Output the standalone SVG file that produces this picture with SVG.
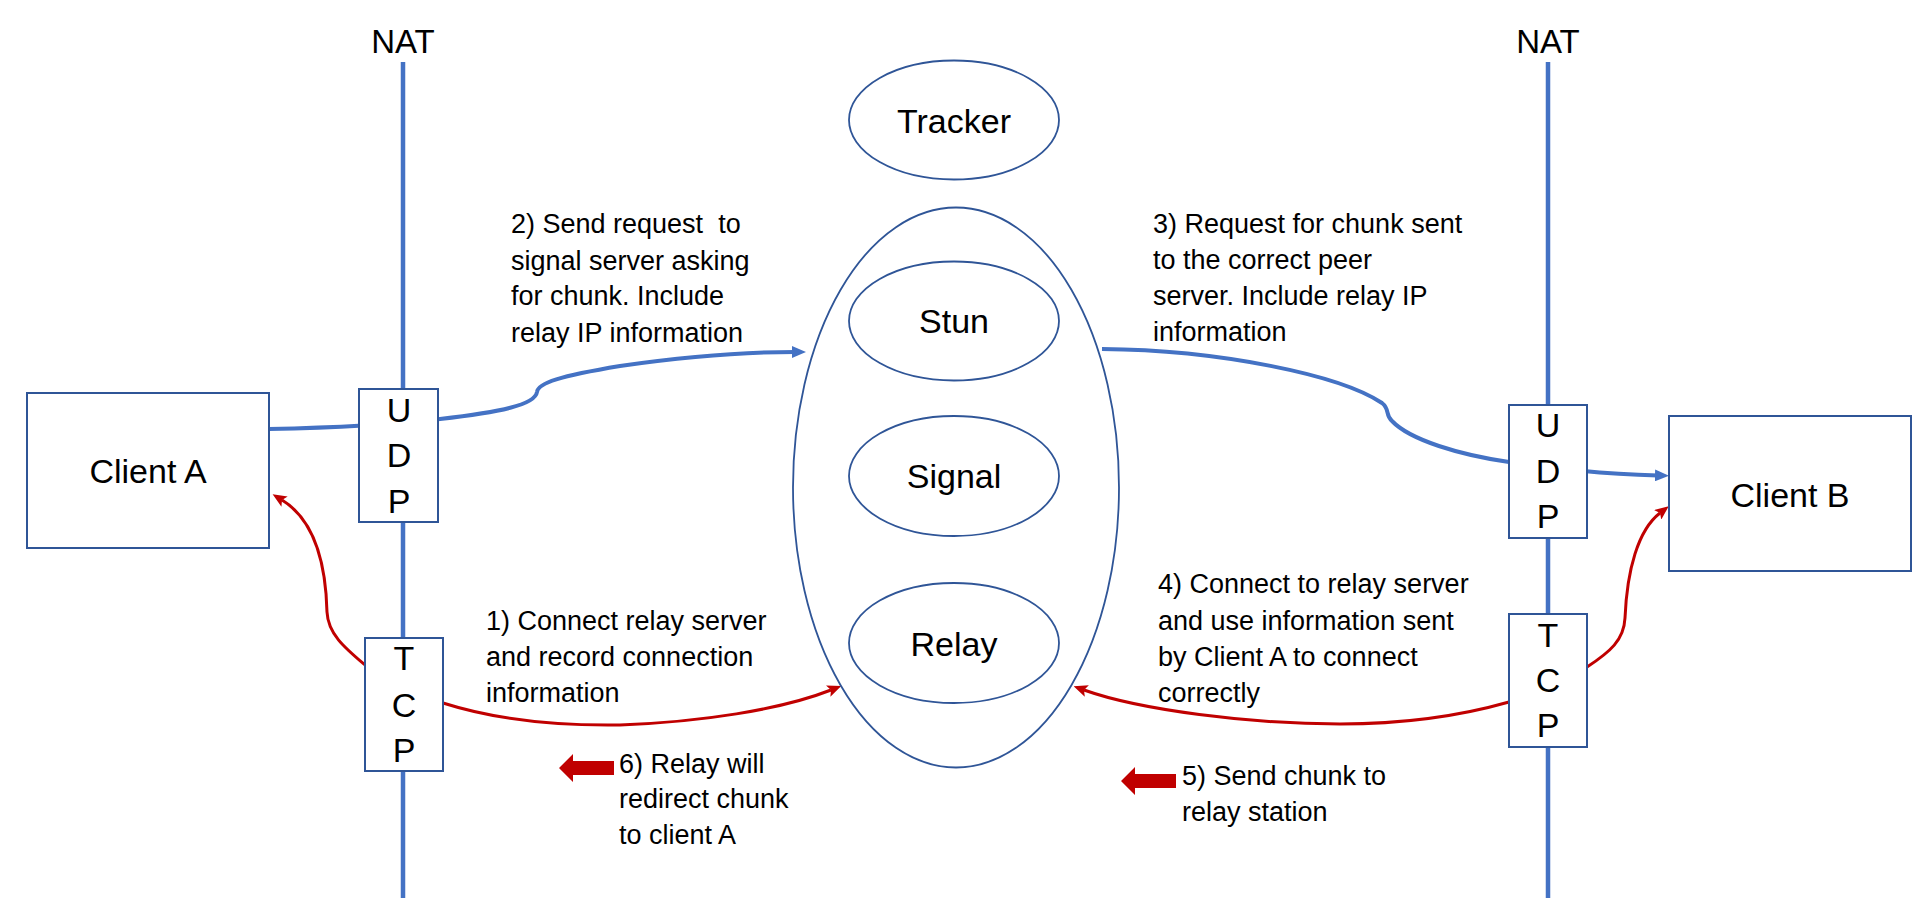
<svg xmlns="http://www.w3.org/2000/svg" width="1924" height="914" viewBox="0 0 1924 914">
<style>
text{font-family:"Liberation Sans",Arial,sans-serif;fill:#000}
.nat{stroke:#4472C4;stroke-width:4.5}
.box{fill:#fff;stroke:#2F5597;stroke-width:2}
.ell{fill:none;stroke:#2F5597;stroke-width:1.8}
.blue{fill:none;stroke:#4472C4;stroke-width:4}
.red{fill:none;stroke:#C00000;stroke-width:3}
.lbl{font-size:27px;white-space:pre}
.big{font-size:34px;text-anchor:middle}
.let{font-size:34px;text-anchor:middle}
.blk{fill:#C00000}
</style>
<defs>
<marker id="ab" viewBox="0 0 14 12" refX="3" refY="6" markerWidth="14" markerHeight="12" markerUnits="userSpaceOnUse" orient="auto"><path d="M0,0 L14,6 L0,12 z" fill="#4472C4"/></marker>
<marker id="ar" viewBox="0 0 14 12" refX="3" refY="6" markerWidth="14" markerHeight="12" markerUnits="userSpaceOnUse" orient="auto"><path d="M0,0 L14,6 L0,12 L3,6 z" fill="#C00000"/></marker>
</defs>
<g id="nat-left">
<line class="nat" x1="403" y1="62" x2="403" y2="898"/>
<text x="403" y="53" font-size="33" text-anchor="middle">NAT</text>
</g>
<g id="nat-right">
<line class="nat" x1="1548" y1="62" x2="1548" y2="898"/>
<text x="1548" y="53" font-size="33" text-anchor="middle">NAT</text>
</g>
<g id="connectors">
<path class="blue" d="M269,429 C320,428 380,426 440,419 C500,412 535,405 537,392 C538,383 560,376 620,366 C690,356 740,352 795,352" marker-end="url(#ab)"/>
<path class="blue" d="M1102,349 C1220,350 1340,375 1382,403 C1390,409 1385,415 1392,421 C1410,440 1460,455 1509,462 C1560,469 1600,474 1658,475.5" marker-end="url(#ab)"/>
<path class="red" d="M443,703 C490,718 550,726 620,725 C700,722 780,710 831,690" marker-end="url(#ar)"/>
<path class="red" d="M365,665 C345,648 328,634 327,612 C326,570 318,522 282,500" marker-end="url(#ar)"/>
<path class="red" d="M1509,702 C1460,716 1400,724 1340,724 C1250,724 1140,710 1084,690" marker-end="url(#ar)"/>
<path class="red" d="M1587,667 C1610,652 1624,640 1625,618 C1627,570 1638,530 1660,513" marker-end="url(#ar)"/>
</g>
<g id="client-a">
<rect class="box" x="27" y="393" width="242" height="155"/>
<text class="big" x="148" y="483">Client A</text>
</g>
<g id="udp-left">
<rect class="box" x="359" y="389" width="79" height="133"/>
<text class="let" x="399" y="422">U</text>
<text class="let" x="399" y="467">D</text>
<text class="let" x="399" y="513">P</text>
</g>
<g id="tcp-left">
<rect class="box" x="365" y="638" width="78" height="133"/>
<text class="let" x="404" y="670">T</text>
<text class="let" x="404" y="717">C</text>
<text class="let" x="404" y="762">P</text>
</g>
<g id="tracker">
<ellipse class="ell" cx="954" cy="120" rx="105" ry="59.5"/>
<text class="big" x="954" y="133" font-size="33">Tracker</text>
</g>
<g id="server-group">
<ellipse class="ell" cx="956" cy="487.5" rx="163" ry="280"/>
</g>
<g id="stun">
<ellipse class="ell" cx="954" cy="321" rx="105" ry="59.5"/>
<text class="big" x="954" y="333">Stun</text>
</g>
<g id="signal">
<ellipse class="ell" cx="954" cy="476" rx="105" ry="60"/>
<text class="big" x="954" y="488">Signal</text>
</g>
<g id="relay">
<ellipse class="ell" cx="954" cy="643" rx="105" ry="60"/>
<text class="big" x="954" y="656">Relay</text>
</g>
<g id="udp-right">
<rect class="box" x="1509" y="405" width="78" height="133"/>
<text class="let" x="1548" y="437">U</text>
<text class="let" x="1548" y="483">D</text>
<text class="let" x="1548" y="528">P</text>
</g>
<g id="tcp-right">
<rect class="box" x="1509" y="614" width="78" height="133"/>
<text class="let" x="1548" y="647">T</text>
<text class="let" x="1548" y="692">C</text>
<text class="let" x="1548" y="737">P</text>
</g>
<g id="client-b">
<rect class="box" x="1669" y="416" width="242" height="155"/>
<text class="big" x="1790" y="507">Client B</text>
</g>
<g id="label-2">
<text class="lbl" x="511" y="233" xml:space="preserve">2) Send request  to</text>
<text class="lbl" x="511" y="270">signal server asking</text>
<text class="lbl" x="511" y="305">for chunk. Include</text>
<text class="lbl" x="511" y="342">relay IP information</text>
</g>
<g id="label-3">
<text class="lbl" x="1153" y="233">3) Request for chunk sent</text>
<text class="lbl" x="1153" y="269">to the correct peer</text>
<text class="lbl" x="1153" y="305">server. Include relay IP</text>
<text class="lbl" x="1153" y="341">information</text>
</g>
<g id="label-1">
<text class="lbl" x="486" y="630">1) Connect relay server</text>
<text class="lbl" x="486" y="666">and record connection</text>
<text class="lbl" x="486" y="702">information</text>
</g>
<g id="label-4">
<text class="lbl" x="1158" y="593">4) Connect to relay server</text>
<text class="lbl" x="1158" y="630">and use information sent</text>
<text class="lbl" x="1158" y="666">by Client A to connect</text>
<text class="lbl" x="1158" y="702">correctly</text>
</g>
<g id="label-6">
<polygon class="blk" points="559,768 573,754 573,761 614,761 614,775 573,775 573,782"/>
<text class="lbl" x="619" y="773">6) Relay will</text>
<text class="lbl" x="619" y="808">redirect chunk</text>
<text class="lbl" x="619" y="844">to client A</text>
</g>
<g id="label-5">
<polygon class="blk" points="1121,781 1135,767 1135,774 1176,774 1176,788 1135,788 1135,795"/>
<text class="lbl" x="1182" y="785">5) Send chunk to</text>
<text class="lbl" x="1182" y="821">relay station</text>
</g>
</svg>
